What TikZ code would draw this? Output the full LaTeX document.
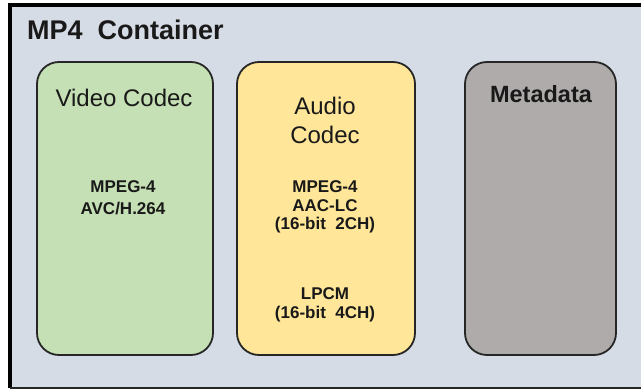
\documentclass[tikz,border=0pt]{standalone}
\usepackage{fontspec}
\setmainfont{Liberation Sans}
\begin{document}
\begin{tikzpicture}[x=1pt,y=-1pt,
  codecbox/.style={draw=black!85, line width=1.8pt, rounded corners=22pt},
  headtext/.style={font=\fontsize{24}{28}\selectfont, align=center, text=black!90, inner sep=0pt},
  subtext/.style={font=\bfseries\fontsize{17}{18.5}\selectfont, align=center, text=black!90, inner sep=0pt}]
\useasboundingbox (0,0) rectangle (641,390);
\fill[white] (0,0) rectangle (641,390);
% outer container
\fill[fill={rgb,255:red,214;green,220;blue,229}] (10,5) rectangle (641,388);
\draw[black, line width=4pt] (641,5) -- (10,5) -- (10,388);
\draw[black!85, line width=1.8pt] (10,388) -- (641,388);
\node[anchor=west, font=\bfseries\fontsize{27}{30}\selectfont, inner sep=0pt, text=black!90] (title) at (27,30) {MP4\ \ Container};
% boxes
\draw[codecbox, fill={rgb,255:red,197;green,224;blue,180}] (37,62) rectangle (213,355);
\draw[codecbox, fill={rgb,255:red,255;green,230;blue,153}] (237,62) rectangle (415,355);
\draw[codecbox, fill={rgb,255:red,175;green,171;blue,171}] (465,62) rectangle (616,355);
% texts
\node[headtext] (vhead) at (124,98) {Video Codec};
\node[subtext, font=\bfseries\fontsize{17}{22}\selectfont] (vsub) at (123,198) {MPEG-4\\AVC/H.264};
\node[headtext, font=\fontsize{24}{29}\selectfont] (ahead) at (325,120) {Audio\\Codec};
\node[subtext] (asub1) at (325,207) {MPEG-4\\AAC-LC\\(16-bit\ \ 2CH)};
\node[subtext] (asub2) at (325,305) {LPCM\\(16-bit\ \ 4CH)};
\node[headtext, font=\bfseries\fontsize{23.5}{26}\selectfont] (mhead) at (541,94) {Metadata};
\end{tikzpicture}
\end{document}
